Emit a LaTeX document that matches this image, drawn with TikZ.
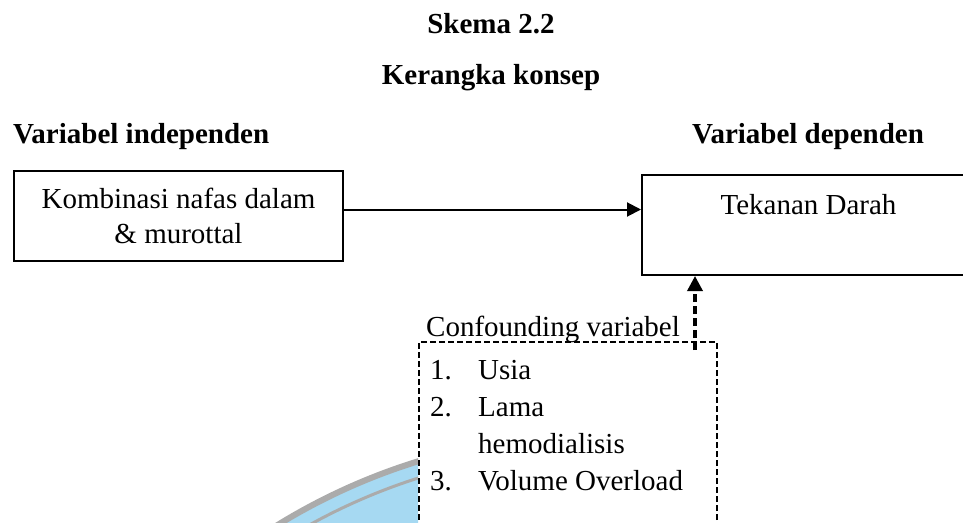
\documentclass[tikz,border=0pt]{standalone}
\usepackage{fontspec}
\setmainfont{Liberation Serif}
\usetikzlibrary{arrows.meta}
\definecolor{wmblue}{HTML}{A6D9F2}
\definecolor{wmgrey}{HTML}{ABABAB}
\tikzset{
  txt/.style={inner sep=0pt, font=\fontsize{29}{35}\selectfont},
  head/.style={txt, font=\fontsize{29}{35}\selectfont\bfseries},
  solidbox/.style={draw, line width=2pt, fill=white, inner sep=0pt},
  dashbox/.style={draw, line width=1.7pt, fill=white, dash pattern=on 6pt off 3pt, inner sep=0pt},
  mainarrow/.style={line width=2pt, -{Triangle[length=14pt,width=14pt]}},
  dasharrow/.style={line width=3.4pt, dash pattern=on 8pt off 4pt, -{Triangle[length=15pt,width=15pt]}}
}
\begin{document}
\begin{tikzpicture}[x=1pt,y=1pt]
\useasboundingbox (0,0) rectangle (963,-522);
\clip (0,0) rectangle (963,-522);
\fill[white] (0,0) rectangle (963,-522);
% watermark fragment
\begin{scope}
\clip (0,-522) rectangle (418,0);
\fill[wmblue] (600,-1050) circle (614);
\draw[wmgrey, line width=6] (600,-1050) circle (616);
\draw[wmgrey, line width=3] (600,-1050) circle (600);
\end{scope}
% headings
\node[head, anchor=base] (t1) at (491,-33) {Skema 2.2};
\node[head, anchor=base] (t2) at (491,-84) {Kerangka konsep};
\node[head, anchor=base west] (hi) at (13,-143) {Variabel independen};
\node[head, anchor=base west] (hd) at (692,-143) {Variabel dependen};
% boxes
\node[solidbox, minimum width=329, minimum height=90, align=center, txt] (L) at (178.5,-216)
  {Kombinasi nafas dalam\\ \& murottal};
\node[solidbox, minimum width=333, minimum height=100] (R) at (808.5,-225) {};
\node[txt, anchor=base] (Rt) at (808.5,-214) {Tekanan Darah};
\coordinate (ay) at (0,-209.5);
\draw[mainarrow] (L.east |- ay) -- (R.west |- ay);
% confounding
\node[dashbox, minimum width=298, minimum height=258] (C) at (568,-471) {};
\node[txt, anchor=base west] (Ct) at (426,-336) {Confounding variabel};
\node[txt, anchor=base west] (n1) at (430,-379) {1.};
\node[txt, anchor=base west] (i1) at (478,-379) {Usia};
\node[txt, anchor=base west] (n2) at (430,-416) {2.};
\node[txt, anchor=base west] (i2) at (478,-416) {Lama};
\node[txt, anchor=base west] (i2b) at (478,-453) {hemodialisis};
\node[txt, anchor=base west] (n3) at (430,-490) {3.};
\node[txt, anchor=base west] (i3) at (478,-490) {Volume Overload};
\coordinate (cs) at (695,-350);
\draw[dasharrow] (cs) -- (cs |- R.south);
\end{tikzpicture}
\end{document}
